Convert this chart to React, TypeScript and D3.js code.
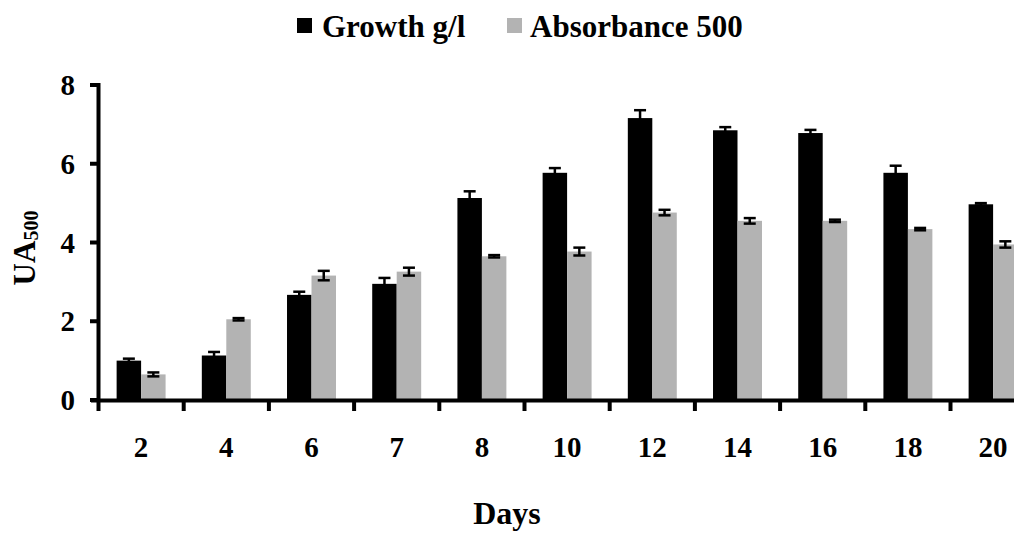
import React from "react";
import * as d3 from "d3";

const days = ["2", "4", "6", "7", "8", "10", "12", "14", "16", "18", "20"];
const seriesNames = ["Growth g/l", "Absorbance 500"];
const growth = [1.0, 1.13, 2.67, 2.95, 5.13, 5.77, 7.16, 6.85, 6.78, 5.77, 4.97];
const growthErr = [0.05, 0.09, 0.08, 0.15, 0.17, 0.12, 0.2, 0.08, 0.08, 0.18, 0.03];
const absorbance = [0.65, 2.05, 3.16, 3.26, 3.65, 3.77, 4.76, 4.55, 4.55, 4.34, 3.95];
const absorbanceErr = [0.05, 0.03, 0.12, 0.1, 0.03, 0.1, 0.07, 0.07, 0.03, 0.03, 0.08];
const yTicks = [0, 2, 4, 6, 8];
const colors = ["#000000", "#b3b3b3"];

const W = 1014;
const H = 533;
const FONT = "Liberation Serif, Times New Roman, Times, DejaVu Serif, serif";

export default function App() {
  const x0 = d3.scaleBand<string>().domain(days).range([98.5, 98.5 + 11 * 85.2]).padding(0);
  const bw = x0.bandwidth();
  const x1 = d3
    .scaleBand<string>()
    .domain(seriesNames)
    .range([0, bw])
    .paddingInner(0)
    .paddingOuter(0.74);
  const y = d3.scaleLinear().domain([0, 8]).range([400, 85]);

  const values = [growth, absorbance];
  const errs = [growthErr, absorbanceErr];
  const capW = 12;

  const boundaries = d3.range(days.length + 1).map((i) => 98.5 + i * bw);
  const txt: React.CSSProperties = { fontFamily: FONT, fontWeight: 700 };

  return (
    <svg
      width={W}
      height={H}
      style={{ position: "absolute", left: 0, top: 0, background: "#fff" }}
    >
      <rect x={0} y={0} width={W} height={H} fill="#fff" />
      {/* legend */}
      <g>
        <rect x={297} y={18} width={15} height={15} fill={colors[0]} />
        <text x={322} y={37} fontSize={31} style={txt}>{seriesNames[0]}</text>
        <rect x={507} y={18} width={15} height={15} fill={colors[1]} />
        <text x={530} y={37} fontSize={31} style={txt}>{seriesNames[1]}</text>
      </g>
      {/* bars */}
      {seriesNames.map((s, si) =>
        days.map((d, i) => {
          const bx = (x0(d) as number) + (x1(s) as number);
          const v = values[si][i];
          return (
            <rect
              key={s + d}
              x={bx}
              y={y(v)}
              width={x1.bandwidth()}
              height={y(0) - y(v)}
              fill={colors[si]}
            />
          );
        })
      )}
      {/* error bars */}
      {seriesNames.map((s, si) =>
        days.map((d, i) => {
          const cx = (x0(d) as number) + (x1(s) as number) + x1.bandwidth() / 2;
          const v = values[si][i];
          const e = errs[si][i];
          const yt = y(v + e);
          const yb = y(v - e);
          return (
            <g key={"e" + s + d} stroke="#000" strokeWidth={2.5}>
              <line x1={cx} x2={cx} y1={yt} y2={yb} />
              <line x1={cx - capW / 2} x2={cx + capW / 2} y1={yt} y2={yt} />
              <line x1={cx - capW / 2} x2={cx + capW / 2} y1={yb} y2={yb} />
            </g>
          );
        })
      )}
      {/* y axis */}
      <line x1={98.5} x2={98.5} y1={83} y2={402} stroke="#000" strokeWidth={4} />
      {yTicks.map((t) => (
        <g key={"yt" + t}>
          <line x1={90} x2={98.5} y1={y(t)} y2={y(t)} stroke="#000" strokeWidth={4} />
          <text x={75} y={y(t)} dy="0.35em" textAnchor="end" fontSize={29} style={txt}>
            {t}
          </text>
        </g>
      ))}
      {/* x axis */}
      <line x1={91} x2={W} y1={400.5} y2={400.5} stroke="#000" strokeWidth={4} />
      {boundaries.map((b, i) => (
        <line key={"xt" + i} x1={b} x2={b} y1={400} y2={411} stroke="#000" strokeWidth={4} />
      ))}
      {days.map((d) => (
        <text
          key={"xl" + d}
          x={(x0(d) as number) + bw / 2}
          y={457}
          textAnchor="middle"
          fontSize={29}
          style={txt}
        >
          {d}
        </text>
      ))}
      {/* axis titles */}
      <text x={507} y={524} textAnchor="middle" fontSize={32} style={txt}>
        Days
      </text>
      <text transform="translate(35,248) rotate(-90)" textAnchor="middle" fontSize={31} style={txt}>
        UA
        <tspan fontSize={20} dy={3}>500</tspan>
      </text>
    </svg>
  );
}
